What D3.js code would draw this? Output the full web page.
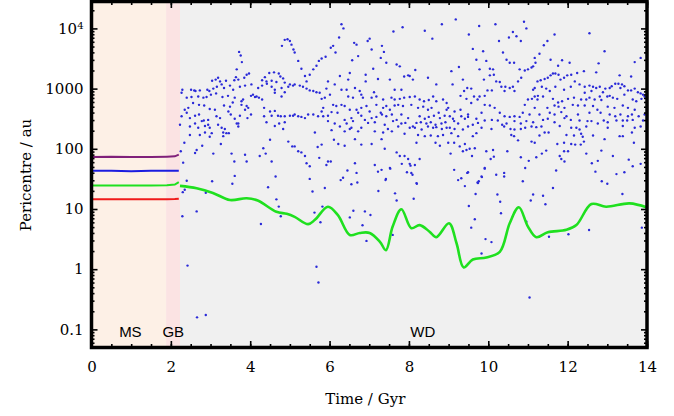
<!DOCTYPE html>
<html>
<head>
<meta charset="utf-8">
<script src="https://d3js.org/d3.v7.min.js"></script>
<style>
  body { margin: 0; background: #fff; }
  svg text { font-family: "DejaVu Serif", serif; }
</style>
</head>
<body>
<div id="chart"></div>
<script>
// ---- data (time in Gyr, pericentre in au) ----
var xTicks = [0, 2, 4, 6, 8, 10, 12, 14];
var yTicks = [0.1, 1, 10, 100, 1000, 10000];

// evolutionary phases of the host star
var phaseNames = ["MS", "GB", "WD"];
var phaseStart = [0, 1.88, 2.23];
var phaseEnd = [1.88, 2.23, 14];
var phaseLabelAt = [0.98, 2.06, 8.35];
var phaseColors = ["#fdf0e6", "#fbe3e3", "#f0f0f0"];

// planets during the MS / GB phase
var msTime = [0, 0.5, 1.0, 1.5, 1.9, 2.1, 2.2];
var msPurple = [73, 74, 73, 73, 74, 75, 80];
var msBlue = [43, 43, 42.5, 43, 43, 43, 43];
var msGreen = [24.5, 24.5, 24.5, 24.5, 24.8, 25.5, 28];
var msRed = [14.5, 14.5, 14.5, 14.5, 14.5, 14.6, 14.8];

// surviving planet in the WD phase
var wdGreenTime = [2.23, 2.65, 3.06, 3.49, 3.91, 4.19, 4.66, 4.92, 5.12, 5.46, 5.63, 5.96, 6.21, 6.51, 6.76, 7.01,
  7.27, 7.42, 7.59, 7.81, 8.06, 8.27, 8.52, 8.69, 9.01, 9.20, 9.38, 9.61, 9.95, 10.29, 10.54, 10.77, 11.0,
  11.21, 11.5, 11.97, 12.22, 12.6, 12.97, 13.56, 14.0];
var wdGreenPeri = [24.2, 22.1, 18.5, 14.1, 15.1, 13.8, 9.0, 8.3, 7.4, 5.6, 6.6, 10.9, 7.9, 3.7, 4.0, 4.0,
  2.85, 2.07, 5.1, 9.9, 4.8, 5.4, 4.2, 3.4, 5.8, 2.7, 1.07, 1.45, 1.57, 1.94, 5.8, 10.7, 5.1,
  3.4, 4.1, 4.5, 5.4, 12.1, 10.9, 12.4, 10.6];

// scattered objects in the WD phase: [time, log10(pericentre / au)]
var wdScatter = [
  [4.87,3.81],[4.94,3.82],[5.00,3.79],[4.80,3.71],[5.04,3.73],[5.09,3.65],[3.72,3.61],[3.76,3.55],[3.79,3.44],
  [3.66,3.32],[3.91,3.23],[3.97,3.25],[3.85,3.18],[3.64,3.19],[3.70,3.15],[3.60,3.14],[3.19,3.18],[3.13,3.15],
  [3.04,3.13],[3.24,3.12],[3.39,3.13],[4.48,3.26],[4.60,3.27],[4.72,3.25],[4.76,3.20],[4.37,3.19],[4.30,3.14],
  [4.41,3.12],[4.54,3.13],[4.66,3.11],[4.83,3.17],[4.87,3.10],[5.00,3.07],[5.08,3.05],
  [2.29,2.98],[2.51,2.98],[2.59,2.97],[2.73,2.97],[2.62,2.96],[2.92,2.98],[2.97,2.96],[3.07,3.00],[3.16,3.03],
  [3.28,3.07],[3.34,3.01],[3.49,3.05],[3.57,2.98],[3.74,3.03],[3.87,3.05],[4.03,3.07],[4.20,3.01],[4.30,3.05],
  [4.42,3.08],[4.54,3.03],[4.62,2.98],[4.79,3.01],[4.96,3.03],
  [2.27,2.93],[2.40,2.85],[2.52,2.86],[2.69,2.87],[2.82,2.85],[2.90,2.86],[3.01,2.90],[3.14,2.92],[3.30,2.86],
  [3.44,2.88],[3.61,2.85],[3.78,2.79],[3.82,2.82],[4.02,2.88],[4.07,2.90],[4.12,2.86],[4.16,2.87],[4.22,2.85],
  [4.30,2.82],[4.62,2.93],[4.79,2.87],[4.87,2.94],
  [2.35,2.65],[2.44,2.68],[2.56,2.76],[2.71,2.73],[2.84,2.72],[2.98,2.66],[3.11,2.65],[3.34,2.72],[3.49,2.70],
  [3.56,2.77],[3.78,2.73],[3.87,2.65],[3.91,2.71],[3.95,2.68],[4.35,2.68],[4.50,2.62],[4.62,2.63],
  [2.23,2.40],[2.27,2.54],[2.40,2.60],[2.48,2.51],[2.61,2.55],[2.71,2.57],[2.83,2.47],[2.94,2.48],[3.15,2.54],
  [3.24,2.51],[3.45,2.62],[3.51,2.57],[3.61,2.50],[3.66,2.42],[3.74,2.55],[3.93,2.51],[4.02,2.57],[4.35,2.54],
  [4.54,2.55],[4.70,2.55],[4.77,2.54],[4.87,2.54],[5.00,2.55],[5.08,2.55],
  [2.48,2.37],[2.61,2.42],[2.69,2.35],[2.78,2.46],[2.86,2.38],[2.94,2.40],[2.98,2.35],[3.19,2.40],[3.28,2.35],
  [3.36,2.33],[3.40,2.26],[3.32,2.27],[3.46,2.26],[3.70,2.42],[3.70,2.37],[4.41,2.44],[4.62,2.38],[4.73,2.42],
  [4.83,2.33],[4.87,2.44],[2.48,2.23],[2.73,2.23],[2.86,2.27],[2.98,2.20],[3.03,2.26],[3.32,2.21],
  [2.34,2.10],[2.79,2.05],[2.65,1.98],[2.61,1.93],[3.26,2.08],[3.07,1.92],[3.53,1.92],[3.87,1.90],[4.24,1.88],
  [4.33,2.01],[4.39,1.92],[4.50,2.15],[4.54,1.79],[3.91,1.79],[3.60,1.79],[4.96,2.12],[5.06,2.04],[2.31,1.77],
  [2.25,1.96],[3.04,1.46],[3.61,1.55],[3.55,1.42],[4.45,1.36],[4.64,1.54],
  [6.30,4.07],[6.35,4.00],[6.24,3.85],[6.62,3.76],[6.68,3.73],[6.96,3.79],[7.01,3.83],[7.61,3.95],[7.84,4.02],
  [7.32,3.71],[7.37,3.61],[6.57,3.47],[6.72,3.54],[7.06,3.65],[7.29,3.51],[7.43,3.43],[7.69,3.40],[7.77,3.37],
  [7.10,3.33],[7.98,3.22],[7.88,3.20],
  [5.42,3.12],[5.50,3.23],[5.59,3.32],[5.67,3.38],[5.73,3.46],[5.80,3.50],[5.90,3.53],[6.03,3.68],[6.09,3.71],
  [6.15,3.60],[5.12,3.60],[5.21,3.46],[5.29,3.33],[5.38,3.21],
  [5.12,3.07],[5.25,3.05],[5.33,3.03],[5.42,3.00],[5.50,2.97],[5.59,2.96],[5.67,2.94],[5.75,2.93],
  [5.12,2.57],[5.21,2.54],[5.29,2.53],[5.38,2.51],[5.46,2.57],[5.59,2.57],[5.71,2.54],[5.84,2.54],[5.96,2.55],
  [5.12,2.04],[5.21,1.96],[5.29,1.94],[5.38,1.88],[5.42,1.76],[5.50,1.71],
  [5.96,3.12],[6.13,3.07],[6.26,3.21],[6.47,3.15],[6.51,3.26],[6.64,3.01],[6.91,3.23],[6.91,3.12],[7.22,3.16],
  [7.52,3.15],[7.64,2.98],[7.81,2.98],[8.02,3.21],[8.10,3.15],[5.92,3.00],[6.01,2.90],[6.30,2.98],[6.43,2.98],
  [6.47,2.87],[6.59,2.85],[6.76,2.96],[6.80,2.90],[6.84,2.85],[7.06,2.85],[7.12,2.94],[7.18,2.87],[7.35,2.82],
  [7.56,2.85],[7.64,2.82],[7.77,2.83],[7.88,2.85],[8.02,2.86],[5.80,2.83],[5.88,2.85],[5.84,2.68],[5.80,2.62],
  [6.09,2.73],[6.17,2.71],[6.30,2.73],[6.38,2.71],[6.51,2.65],[6.68,2.65],[6.80,2.68],[6.93,2.71],[7.01,2.62],
  [7.18,2.73],[7.29,2.60],[7.35,2.68],[7.43,2.71],[7.52,2.65],[7.64,2.72],[7.73,2.73],[7.85,2.71],[8.06,2.73],
  [6.05,2.61],[6.20,2.60],[6.38,2.48],[6.55,2.51],[6.72,2.60],[6.80,2.55],[7.06,2.51],[7.18,2.53],[7.32,2.57],
  [7.43,2.54],[7.57,2.57],[7.69,2.48],[7.81,2.57],[7.98,2.51],[5.96,2.46],[6.13,2.42],[6.26,2.37],[6.43,2.42],
  [6.55,2.35],[6.59,2.46],[6.80,2.35],[6.89,2.48],[6.97,2.43],[7.14,2.44],[7.39,2.40],[7.60,2.46],[7.73,2.37],
  [7.81,2.42],[7.91,2.43],[8.10,2.37],[5.63,2.27],[6.05,2.31],[6.38,2.29],[6.51,2.33],[6.72,2.29],[7.14,2.29],
  [7.35,2.27],[7.47,2.33],[7.57,2.29],[7.89,2.25],[8.02,2.35],[6.11,2.15],[6.22,2.08],[6.38,2.05],[6.64,2.16],
  [6.80,2.07],[7.06,2.08],[7.31,2.16],[7.39,2.00],[7.69,1.94],[7.77,1.88],[7.89,1.88],[7.98,1.83],[8.02,1.75],
  [5.70,2.03],[5.80,2.07],[5.74,1.85],[5.96,1.79],[6.03,1.79],[6.64,1.76],[7.14,1.73],[7.22,1.62],[7.31,1.65],
  [7.52,1.68],[8.06,1.60],[5.50,1.50],[5.88,1.35],[6.28,1.48],[6.34,1.52],[6.45,1.64],[6.68,1.60],[6.55,1.41],
  [6.70,1.44],[7.41,1.48],
  [9.18,4.15],[8.83,4.07],[8.40,3.96],[8.59,3.83],[9.77,4.04],[10.18,4.07],[9.51,3.90],[10.90,4.11],[10.96,4.00],
  [10.62,3.94],[10.52,3.85],[10.71,3.87],[10.27,3.79],[10.82,3.79],[9.61,3.66],[9.87,3.62],[10.37,3.60],
  [9.70,3.48],[9.95,3.46],[10.46,3.48],[10.54,3.43],[10.65,3.43],[8.16,3.31],[9.07,3.29],[9.26,3.36],[9.78,3.32],
  [10.04,3.33],[10.12,3.32],[10.04,3.22],[10.14,3.23],[10.79,3.32],[10.92,3.30],[11.00,3.32],[11.09,3.35],
  [11.13,3.37],[8.48,3.18],[9.36,3.15],[9.89,3.15],[10.20,3.12],[10.29,3.11],[10.83,3.18],[10.75,3.12],
  [8.69,3.07],[9.10,3.07],[9.47,3.01],[9.39,2.96],[9.57,3.00],[9.98,2.97],[10.09,2.97],[10.33,3.03],[10.43,3.03],
  [10.54,3.01],[10.62,3.03],[10.66,2.96],[10.41,2.96],[11.13,2.98],[9.30,2.88],[9.45,2.83],[9.64,2.87],
  [9.78,2.87],[9.91,2.88],[9.73,2.82],[9.57,2.76],[8.15,2.87],[8.27,2.82],[8.38,2.79],[8.50,2.81],[8.61,2.87],
  [8.69,2.79],[8.86,2.82],[8.95,2.76],[11.00,2.82],[11.10,2.83],[10.92,2.73],[9.91,2.73],[10.04,2.72],
  [10.16,2.68],[8.23,2.68],[8.36,2.70],[8.48,2.65],[8.57,2.68],[8.75,2.60],[8.95,2.65],[8.99,2.68],[9.15,2.62],
  [9.30,2.65],[9.49,2.57],[9.83,2.60],[10.29,2.60],[10.41,2.54],[10.54,2.53],[10.66,2.54],[10.79,2.53],
  [10.87,2.60],[11.04,2.57],[8.27,2.54],[8.40,2.50],[8.50,2.53],[8.63,2.55],[8.78,2.51],[8.90,2.55],[9.03,2.54],
  [9.11,2.50],[9.32,2.54],[9.41,2.50],[9.49,2.53],[9.70,2.50],[9.91,2.47],[10.09,2.48],[10.24,2.47],[8.19,2.43],
  [8.30,2.44],[8.44,2.42],[8.55,2.44],[8.67,2.40],[8.82,2.42],[8.92,2.44],[9.14,2.46],[9.24,2.42],[9.61,2.40],
  [9.74,2.43],[10.35,2.40],[10.46,2.42],[10.66,2.46],[10.82,2.42],[10.96,2.46],[11.13,2.44],[8.15,2.35],
  [8.32,2.32],[8.48,2.37],[8.61,2.35],[8.69,2.36],[8.83,2.33],[8.95,2.35],[9.03,2.35],[9.15,2.33],[9.36,2.32],
  [9.49,2.37],[9.83,2.35],[10.08,2.33],[10.40,2.37],[10.56,2.33],[10.66,2.32],[10.82,2.33],[10.93,2.35],
  [11.09,2.37],[8.23,2.23],[8.40,2.21],[8.55,2.22],[8.73,2.21],[8.86,2.23],[9.07,2.26],[9.24,2.21],[9.61,2.21],
  [9.70,2.26],[10.58,2.23],[10.65,2.21],[8.19,2.10],[8.67,2.10],[8.78,2.05],[8.99,2.10],[9.14,2.10],[9.28,2.04],
  [9.41,2.08],[10.75,2.14],[11.09,2.12],[9.36,1.96],[9.45,1.98],[9.53,2.00],[9.66,2.01],[9.95,1.96],
  [10.12,1.98],[10.48,1.96],[8.27,1.83],[9.05,1.92],[9.59,1.88],[10.06,1.83],[10.14,1.87],[10.82,1.86],
  [8.15,1.73],[9.14,1.65],[9.47,1.60],[9.91,1.68],[10.20,1.57],[10.40,1.60],[10.40,1.54],[10.93,1.68],
  [8.19,1.43],[9.24,1.48],[9.32,1.51],[9.41,1.38],[9.73,1.44],[9.76,1.46],[9.83,1.54],[10.87,1.46],
  [11.67,3.90],[12.55,3.92],[11.49,3.79],[11.40,3.72],[11.29,3.58],[12.93,3.62],[11.17,3.51],[11.57,3.48],
  [11.86,3.47],[12.05,3.43],[12.78,3.42],[13.69,3.44],[13.84,3.51],[11.76,3.38],[11.19,3.43],[12.41,3.29],
  [12.72,3.27],[13.31,3.22],[13.60,3.20],[11.63,3.25],[11.69,3.25],[11.77,3.23],[11.57,3.22],[12.24,3.26],
  [12.09,3.23],[11.99,3.22],[11.91,3.18],[11.50,3.18],[11.42,3.16],[11.32,3.14],[11.24,3.12],[11.82,3.15],
  [12.18,3.12],[12.30,3.07],[12.43,3.03],[12.55,3.05],[12.64,3.03],[12.72,3.01],[12.81,3.03],[12.95,3.00],
  [13.06,3.01],[13.11,3.04],[13.20,3.08],[13.28,3.08],[13.37,3.07],[13.43,3.04],[13.33,3.01],[13.52,2.97],
  [13.60,2.97],[13.69,3.00],[13.77,2.94],[13.84,2.92],[13.90,2.90],[12.08,3.03],[11.69,3.03],[11.46,3.00],
  [11.35,3.03],[11.17,3.01],[11.91,2.98],[11.55,2.96],[12.43,2.93],[12.60,2.96],[12.89,2.94],[13.00,2.87],
  [13.14,2.85],[13.25,2.83],[13.43,2.90],[11.17,2.87],[11.25,2.88],[11.38,2.87],[11.24,2.82],[11.63,2.83],
  [11.76,2.77],[11.86,2.79],[12.01,2.83],[12.16,2.85],[12.34,2.82],[12.47,2.82],[12.55,2.85],[12.68,2.82],
  [12.81,2.87],[12.85,2.81],[13.06,2.88],[13.64,2.82],[13.73,2.79],[13.86,2.83],[13.94,2.87],[11.17,2.68],
  [11.49,2.68],[11.67,2.72],[11.77,2.70],[11.92,2.68],[12.13,2.73],[12.26,2.72],[12.43,2.72],[12.64,2.71],
  [12.75,2.65],[13.01,2.70],[13.18,2.68],[13.39,2.72],[13.52,2.68],[13.69,2.65],[13.94,2.57],[11.29,2.57],
  [11.55,2.60],[11.67,2.57],[11.84,2.61],[11.97,2.54],[12.26,2.57],[12.55,2.60],[12.83,2.60],[13.06,2.57],
  [13.20,2.54],[13.33,2.57],[13.52,2.54],[13.62,2.57],[13.79,2.54],[11.38,2.48],[11.50,2.50],[11.67,2.44],
  [11.92,2.51],[12.08,2.48],[12.30,2.47],[12.50,2.46],[12.60,2.46],[12.91,2.47],[13.01,2.44],[13.23,2.47],
  [13.39,2.47],[13.50,2.47],[13.64,2.48],[13.90,2.47],[11.21,2.36],[11.34,2.37],[11.80,2.38],[12.09,2.35],
  [12.22,2.35],[12.30,2.32],[12.47,2.37],[12.76,2.42],[13.01,2.35],[13.39,2.38],[13.69,2.35],[13.84,2.37],
  [11.29,2.22],[11.42,2.27],[11.52,2.27],[11.97,2.23],[12.16,2.22],[12.34,2.25],[12.38,2.20],[12.64,2.22],
  [13.31,2.21],[13.39,2.21],[13.62,2.27],[11.17,2.10],[11.74,2.08],[11.91,2.10],[12.09,2.08],[12.19,2.07],
  [12.33,2.07],[12.41,2.12],[12.93,2.16],[13.67,2.10],[11.46,1.97],[11.91,1.96],[12.01,1.96],[12.47,1.92],
  [12.85,1.97],[11.21,1.86],[11.35,1.92],[11.80,1.88],[11.84,1.83],[11.92,1.79],[13.14,1.88],[13.54,1.82],
  [13.84,1.75],[12.61,1.76],[12.76,1.80],[13.64,1.71],[11.71,1.64],[12.70,1.62],[13.23,1.58],[13.43,1.61],
  [12.86,1.46],[13.00,1.42],[11.63,1.35],
  [2.40,1.47],[2.35,1.32],[2.30,1.28],[2.88,1.27],[4.66,1.16],[4.72,1.04],[4.77,0.88],[4.27,0.75],[2.65,0.96],
  [2.29,0.88],[2.42,0.06],[2.66,-0.80],[2.88,-0.76],[5.57,1.29],[5.62,0.94],[5.77,0.78],[5.82,1.04],[5.92,1.73],
  [6.51,0.86],[6.60,0.97],[6.83,0.73],[6.89,0.96],[7.03,0.90],[6.93,0.47],[7.23,1.30],[7.42,1.50],[7.53,1.67],
  [7.65,1.26],[7.69,1.14],[7.82,1.75],[7.95,1.61],[8.04,1.72],[8.09,1.57],[8.20,1.42],[8.12,1.17],[7.59,0.57],
  [5.67,0.04],[5.72,-0.22],
  [9.49,1.61],[9.74,1.43],[9.84,1.53],[9.91,1.67],[9.68,1.25],[9.51,1.05],[9.66,0.83],[9.57,0.69],[9.93,0.50],
  [10.08,0.45],[9.83,0.26],[10.23,1.24],[10.30,1.12],[10.32,0.93],[11.02,1.80],[11.13,1.24],[11.07,1.14],
  [11.38,1.22],[11.44,1.08],[10.96,0.79],[11.53,0.54],[12.02,0.58],[13.38,1.25],[12.54,0.65],[11.04,-0.47],
  [13.87,0.69]
];

// ---- layout ----
var W = 674, H = 416;
var mLeft = 91.5, mRight = 647, mTop = 1.5, mBottom = 347.5;

var svg = d3.select("#chart").append("svg")
  .attr("width", W)
  .attr("height", H);

var x = d3.scaleLinear().domain([0, 14]).range([mLeft, mRight]);
var y = d3.scaleLog().domain([0.05, 28000]).range([mBottom, mTop]);

svg.append("clipPath").attr("id", "clip")
  .append("rect")
  .attr("x", mLeft).attr("y", mTop)
  .attr("width", mRight - mLeft).attr("height", mBottom - mTop);

var plot = svg.append("g").attr("clip-path", "url(#clip)");

// phase backgrounds
plot.selectAll("rect.phase")
  .data(phaseNames)
  .enter().append("rect")
  .attr("class", "phase")
  .attr("x", function(d, i) { return x(phaseStart[i]); })
  .attr("width", function(d, i) { return x(phaseEnd[i]) - x(phaseStart[i]); })
  .attr("y", mTop)
  .attr("height", mBottom - mTop)
  .attr("fill", function(d, i) { return phaseColors[i]; });

// WD scatter
plot.selectAll("circle.pt")
  .data(wdScatter)
  .enter().append("circle")
  .attr("class", "pt")
  .attr("cx", function(d) { return x(d[0]); })
  .attr("cy", function(d) { return y(Math.pow(10, d[1])); })
  .attr("r", 1.2)
  .attr("fill", "#2a2ad8");

// MS lines
var msLine = d3.line()
  .x(function(d, i) { return x(msTime[i]); })
  .y(function(d) { return y(d); });

var msSeries = [[msPurple, "#80207a"], [msBlue, "#1c1ce0"], [msGreen, "#1fe01f"], [msRed, "#f01a1a"]];
msSeries.forEach(function(s) {
  plot.append("path")
    .datum(s[0])
    .attr("d", msLine)
    .attr("fill", "none")
    .attr("stroke", s[1])
    .attr("stroke-width", 2);
});

// WD green planet
var wdLine = d3.line()
  .x(function(d, i) { return x(wdGreenTime[i]); })
  .y(function(d) { return y(d); })
  .curve(d3.curveCatmullRom.alpha(0.5));

plot.append("path")
  .datum(wdGreenPeri)
  .attr("d", wdLine)
  .attr("fill", "none")
  .attr("stroke", "#1fe01f")
  .attr("stroke-width", 2.6);

// phase labels
svg.selectAll("text.phase")
  .data(phaseNames)
  .enter().append("text")
  .attr("class", "phase")
  .attr("x", function(d, i) { return x(phaseLabelAt[i]); })
  .attr("y", 337)
  .attr("text-anchor", "middle")
  .style("font-family", "'Liberation Sans', Arial, sans-serif")
  .style("font-size", "15px")
  .text(function(d) { return d; });

// ---- axes / ticks ----
var xMinor = d3.range(0, 14.01, 0.5);
var yMinor = [];
[-2, -1, 0, 1, 2, 3, 4].forEach(function(e) {
  for (var m = 2; m <= 9; m++) {
    var v = m * Math.pow(10, e);
    if (v > 0.05 && v < 28000) yMinor.push(v);
  }
});

function styleTicks(g) {
  g.select(".domain").remove();
  g.selectAll(".tick line").attr("stroke", "#000").attr("stroke-width", 1.6);
}

svg.append("g").attr("transform", "translate(0," + mBottom + ")")
  .call(d3.axisBottom(x).tickValues(xMinor).tickSize(-3.5).tickFormat(""))
  .call(styleTicks);
svg.append("g").attr("transform", "translate(0," + mTop + ")")
  .call(d3.axisTop(x).tickValues(xMinor).tickSize(-3.5).tickFormat(""))
  .call(styleTicks);
svg.append("g").attr("transform", "translate(0," + mTop + ")")
  .call(d3.axisTop(x).tickValues(xTicks).tickSize(-6.5).tickFormat(""))
  .call(styleTicks);

var xAxis = svg.append("g").attr("transform", "translate(0," + mBottom + ")")
  .call(d3.axisBottom(x).tickValues(xTicks).tickSize(-6.5).tickPadding(14).tickFormat(d3.format("d")))
  .call(styleTicks);
xAxis.selectAll("text").style("font-size", "15px").attr("fill", "#000")
  .style("font-family", "'DejaVu Serif', serif");

svg.append("g").attr("transform", "translate(" + mLeft + ",0)")
  .call(d3.axisLeft(y).tickValues(yMinor).tickSize(-3).tickFormat(""))
  .call(styleTicks);
svg.append("g").attr("transform", "translate(" + mRight + ",0)")
  .call(d3.axisRight(y).tickValues(yMinor).tickSize(-3).tickFormat(""))
  .call(styleTicks);
svg.append("g").attr("transform", "translate(" + mRight + ",0)")
  .call(d3.axisRight(y).tickValues(yTicks).tickSize(-6).tickFormat(""))
  .call(styleTicks);

var yAxis = svg.append("g").attr("transform", "translate(" + mLeft + ",0)")
  .call(d3.axisLeft(y).tickValues(yTicks).tickSize(-6).tickPadding(8).tickFormat(""))
  .call(styleTicks);
yAxis.selectAll(".tick text")
  .style("font-size", "15px")
  .style("font-family", "'DejaVu Serif', serif")
  .attr("fill", "#000")
  .each(function(d) {
    var t = d3.select(this);
    if (d >= 10000) {
      t.append("tspan").text("10");
      t.append("tspan").attr("dy", "-0.45em").style("font-size", "10px").text(Math.round(Math.log10(d)));
    } else {
      t.text(d < 1 ? d3.format(".1f")(d) : d3.format("d")(d));
    }
  });

// frame
svg.append("rect")
  .attr("x", mLeft).attr("y", mTop)
  .attr("width", mRight - mLeft).attr("height", mBottom - mTop)
  .attr("fill", "none")
  .attr("stroke", "#000")
  .attr("stroke-width", 3.5);

// axis titles
svg.append("text")
  .attr("x", (mLeft + mRight) / 2 - 4)
  .attr("y", 404)
  .attr("text-anchor", "middle")
  .style("font-size", "15px")
  .text("Time / Gyr");

svg.append("text")
  .attr("transform", "translate(31,175) rotate(-90)")
  .attr("text-anchor", "middle")
  .style("font-size", "15px")
  .text("Pericentre / au");
</script>
</body>
</html>
